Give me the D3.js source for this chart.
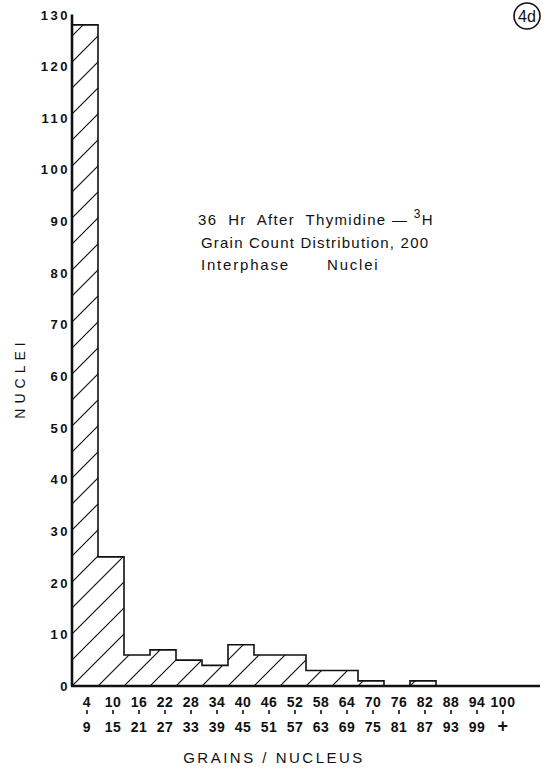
<!DOCTYPE html>
<html>
<head>
<meta charset="utf-8">
<script src="https://cdn.jsdelivr.net/npm/d3@7"></script>
<style>
body { margin: 0; background: #fff; }
.tickLabel { font-family: "Liberation Sans", Arial, sans-serif; font-size: 13px; font-weight: bold; letter-spacing: 1.5px; fill: #111; }
.note { font-family: "Liberation Sans", Arial, sans-serif; font-size: 15px; letter-spacing: 1.3px; fill: #111; white-space: pre; }
</style>
</head>
<body>
<div id="chart"></div>
<script>
var binStarts = ["4","10","16","22","28","34","40","46","52","58","64","70","76","82","88","94","100"];
var binEnds = ["9","15","21","27","33","39","45","51","57","63","69","75","81","87","93","99","+"];
var nuclei = [128, 25, 6, 7, 5, 4, 8, 6, 6, 3, 3, 1, 0, 1, 0, 0, 0];
var yTicks = [0, 10, 20, 30, 40, 50, 60, 70, 80, 90, 100, 110, 120, 130];

function generateHistogram(){
	var width = 547, height = 769;
	var dimensions = {top: 14.5, left: 72, right: 33, bottom: 83};

	var svg = d3.select("#chart").append("svg")
	    .attr("width", width)
	    .attr("height", height);

	var x = d3.scaleBand()
	    .domain(d3.range(nuclei.length))
	    .range([dimensions.left, dimensions.left + 26 * nuclei.length])
	    .padding(0);
	var y = d3.scaleLinear()
	    .domain([0, 130])
	    .range([height - dimensions.bottom, dimensions.top]);

	// diagonal hatching, one continuous pattern across bars
	var pat = svg.append("defs").append("pattern")
	    .attr("id", "hatch")
	    .attr("patternUnits", "userSpaceOnUse")
	    .attr("x", x(0))
	    .attr("y", y(0))
	    .attr("width", 26)
	    .attr("height", 26);
	pat.append("path")
	    .attr("d", "M0,26 L26,0 M-3,3 L3,-3 M23,29 L29,23")
	    .attr("stroke", "#111")
	    .attr("stroke-width", 1.2);

	svg.selectAll(".bar")
	    .data(nuclei)
	    .enter().append("rect")
	    .attr("class", "bar")
	    .attr("x", function(d, i){ return x(i); })
	    .attr("y", function(d){ return y(d); })
	    .attr("width", x.bandwidth())
	    .attr("height", function(d){ return y(0) - y(d); })
	    .style("fill", "url(#hatch)");

	// stepped outline
	var pts = [];
	nuclei.forEach(function(d, i){
		pts.push([x(i), y(d)]);
		pts.push([x(i) + x.bandwidth(), y(d)]);
	});
	svg.append("path")
	    .attr("d", d3.line()(pts))
	    .attr("fill", "none")
	    .attr("stroke", "#111")
	    .attr("stroke-width", 1.6);

	// axes
	svg.append("line")
	    .attr("x1", x(0)).attr("x2", x(0))
	    .attr("y1", y(0)).attr("y2", y(130))
	    .attr("stroke", "#111").attr("stroke-width", 2.6);
	svg.append("line")
	    .attr("x1", x(0) - 1).attr("x2", 540)
	    .attr("y1", y(0)).attr("y2", y(0))
	    .attr("stroke", "#111").attr("stroke-width", 2.6);

	svg.selectAll(".yLabel")
	    .data(yTicks)
	    .enter().append("text")
	    .attr("class", "tickLabel")
	    .attr("x", x(0) - 2)
	    .attr("y", function(d){ return y(d) + 5; })
	    .attr("text-anchor", "end")
	    .style("letter-spacing", "2.5px")
	    .text(function(d){ return d; });

	var cx = function(i){ return x(i) + x.bandwidth() / 2 + 2; };
	svg.selectAll(".xTop")
	    .data(binStarts)
	    .enter().append("text")
	    .attr("class", "tickLabel")
	    .attr("x", function(d, i){ return cx(i); })
	    .attr("y", 707)
	    .attr("text-anchor", "middle")
	    .style("font-size", "14px")
	    .style("letter-spacing", "0.5px")
	    .text(function(d){ return d; });
	svg.selectAll(".xMark")
	    .data(binStarts)
	    .enter().append("line")
	    .attr("x1", function(d, i){ return cx(i); })
	    .attr("x2", function(d, i){ return cx(i); })
	    .attr("y1", 710).attr("y2", 714)
	    .attr("stroke", "#111").attr("stroke-width", 1.6);
	svg.selectAll(".xBottom")
	    .data(binEnds)
	    .enter().append("text")
	    .attr("class", "tickLabel")
	    .attr("x", function(d, i){ return cx(i); })
	    .attr("y", 732)
	    .attr("text-anchor", "middle")
	    .style("font-size", function(d){ return d == "+" ? "18px" : "14px"; })
	    .style("letter-spacing", "0.5px")
	    .text(function(d){ return d; });

	svg.append("text")
	    .attr("class", "tickLabel")
	    .attr("x", 274)
	    .attr("y", 763)
	    .attr("text-anchor", "middle")
	    .style("font-size", "15px")
	    .style("font-weight", "normal")
	    .style("letter-spacing", "2.5px")
	    .text("GRAINS / NUCLEUS");

	svg.append("text")
	    .attr("class", "tickLabel")
	    .attr("transform", "translate(25,378) rotate(-90)")
	    .attr("text-anchor", "middle")
	    .style("font-size", "14px")
	    .style("font-weight", "normal")
	    .style("letter-spacing", "5px")
	    .text("NUCLEI");

	// annotation
	var l1 = svg.append("text").attr("class", "note").attr("x", 198).attr("y", 225);
	l1.append("tspan").text("36  Hr  After  Thymidine \u2014 ");
	l1.append("tspan").attr("dy", -7).style("font-size", "12px").text("3");
	l1.append("tspan").attr("dy", 7).text("H");
	svg.append("text").attr("class", "note").attr("x", 201).attr("y", 248)
	    .style("letter-spacing", "1.2px")
	    .text("Grain Count Distribution, 200");
	var l3 = svg.append("text").attr("class", "note").attr("x", 201).attr("y", 270)
	    .style("letter-spacing", "1.8px");
	l3.append("tspan").text("Interphase");
	l3.append("tspan").attr("x", 327).text("Nuclei");

	// figure tag
	svg.append("circle")
	    .attr("cx", 527).attr("cy", 16).attr("r", 13)
	    .attr("fill", "none").attr("stroke", "#111").attr("stroke-width", 1.6);
	svg.append("text")
	    .attr("class", "note")
	    .attr("x", 527).attr("y", 22)
	    .attr("text-anchor", "middle")
	    .style("font-size", "16px")
	    .style("letter-spacing", "0px")
	    .text("4d");
}

generateHistogram();
</script>
</body>
</html>
